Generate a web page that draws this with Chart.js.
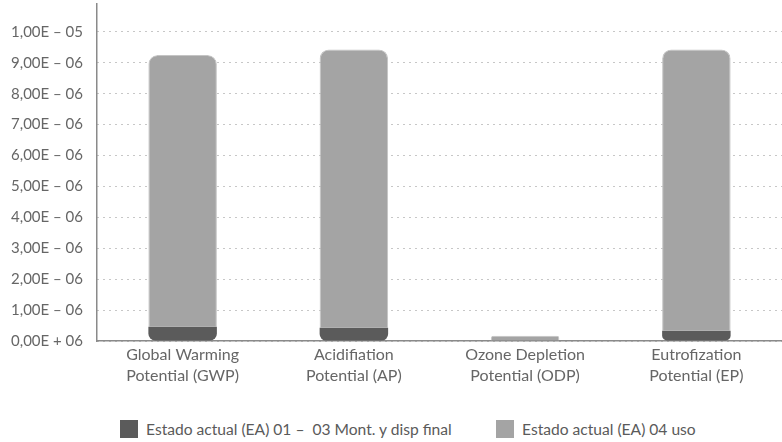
<!DOCTYPE html>
<html>
<head>
<meta charset="utf-8">
<script src="https://cdn.jsdelivr.net/npm/chart.js@4"></script>
<style>
  html, body { margin: 0; padding: 0; background: #ffffff; }
  #wrap { position: relative; width: 782px; height: 442px; font-family: Lato, "Open Sans", sans-serif; }
  #c { position: absolute; left: 0; top: 0; }
  .item { position: absolute; top: 419px; height: 19px; display: flex; align-items: center; color: #5a5a5a; font-size: 15.6px; white-space: pre; }
  .sw { width: 18px; height: 18px; margin-right: 8px; }
</style>
</head>
<body>
<div id="wrap">
  <canvas id="c" width="782" height="392"></canvas>
</div>
<script>
const categories = [
  ["Global Warming", "Potential (GWP)"],
  ["Acidifiation", "Potential (AP)"],
  ["Ozone Depletion", "Potential (ODP)"],
  ["Eutrofization", "Potential (EP)"]
];
const seriesNames = [
  "Estado actual (EA) 01 –  03 Mont. y disp final",
  "Estado actual (EA) 04 uso"
];
const montajeValues = [0.46e-6, 0.43e-6, 0, 0.33e-6];
const usoValues = [8.79e-6, 9.00e-6, 0.17e-6, 9.10e-6];
const yTickValues = [0, 1e-6, 2e-6, 3e-6, 4e-6, 5e-6, 6e-6, 7e-6, 8e-6, 9e-6, 1e-5];
const yTickLabels = ["0,00E + 06", "1,00E – 06", "2,00E – 06", "3,00E – 06", "4,00E – 06",
  "5,00E – 06", "6,00E – 06", "7,00E – 06", "8,00E – 06", "9,00E – 06", "1,00E – 05"];
const colors = ["#5b5b5b", "#a4a4a4"];

const FONT = "Lato, 'Open Sans', sans-serif";

new Chart(document.getElementById('c'), {
  type: 'bar',
  data: {
    labels: categories,
    datasets: [
      {
        label: seriesNames[0],
        data: montajeValues,
        backgroundColor: colors[0],
        borderWidth: 0,
        borderSkipped: false,
        borderRadius: { topLeft: 0, topRight: 0, bottomLeft: 9, bottomRight: 9 }
      },
      {
        label: seriesNames[1],
        data: usoValues,
        backgroundColor: colors[1],
        borderColor: '#c4c4c4',
        borderWidth: 1,
        borderSkipped: 'start',
        borderRadius: { topLeft: 9, topRight: 9, bottomLeft: 0, bottomRight: 0 }
      }
    ]
  },
  options: {
    responsive: false,
    devicePixelRatio: 1,
    animation: false,
    layout: { padding: { top: 4, right: 0, left: 0, bottom: 0 } },
    plugins: { legend: { display: false }, tooltip: { enabled: false } },
    datasets: { bar: { categoryPercentage: 1, barPercentage: 0.4 } },
    scales: {
      x: {
        stacked: true,
        grid: { display: false, drawTicks: false },
        border: { display: true, color: '#8a8a8a', width: 1.5 },
        ticks: { color: '#666', padding: 3, font: { family: FONT, size: 16, lineHeight: 1.31 }, maxRotation: 0, autoSkip: false },
        afterFit: (s) => { s.height = 51; s.paddingLeft = 0; s.paddingRight = 0; }
      },
      y: {
        stacked: true,
        min: 0,
        max: 1.09e-5,
        afterBuildTicks: (s) => { s.ticks = yTickValues.map(v => ({ value: v })); },
        grid: { color: '#8f8f8f', lineWidth: 1, drawTicks: false },
        border: { display: true, color: '#8a8a8a', width: 1.5, dash: [1, 5] },
        ticks: {
          color: '#666', padding: 14, font: { family: FONT, size: 15 },
          callback: (v) => yTickLabels[Math.round(v / 1e-6)]
        },
        afterFit: (s) => { s.width = 97; s.paddingTop = 0; s.paddingBottom = 0; }
      }
    }
  }
});

const wrap = document.getElementById('wrap');
const legendLefts = [120, 496];
seriesNames.forEach((n, i) => {
  const it = document.createElement('div');
  it.className = 'item';
  it.style.left = legendLefts[i] + 'px';
  const sw = document.createElement('span');
  sw.className = 'sw';
  sw.style.background = colors[i];
  const tx = document.createElement('span');
  tx.textContent = n;
  it.appendChild(sw); it.appendChild(tx);
  wrap.appendChild(it);
});
</script>
</body>
</html>
